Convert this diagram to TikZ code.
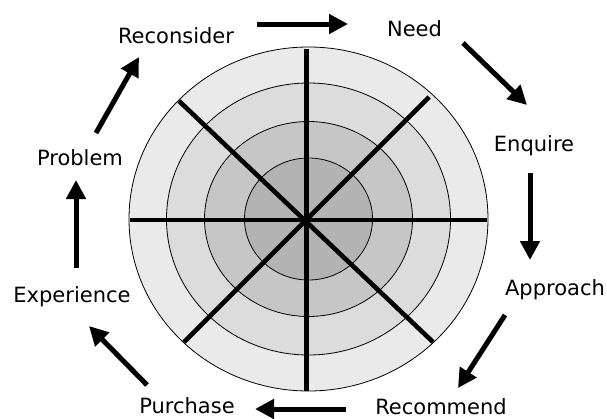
\documentclass[tikz,border=0pt]{standalone}
\usepackage{fontspec}
\setmainfont{DejaVu Sans}
\usetikzlibrary{arrows.meta}
\definecolor{ringA}{HTML}{EAEAEA}
\definecolor{ringB}{HTML}{DCDCDC}
\definecolor{ringC}{HTML}{C6C6C6}
\definecolor{ringD}{HTML}{B3B3B3}
\tikzset{
  lbl/.style={inner sep=0pt, anchor=base, font=\fontsize{21}{25}\selectfont},
  flow/.style={line width=5pt, -{Triangle[width=19pt,length=19pt]}},
  ring/.style={draw=black, line width=0.8pt},
  spoke/.style={line width=4.6pt, line cap=butt},
}
\begin{document}
\begin{tikzpicture}[x=1pt,y=-1pt]
\useasboundingbox (0,0) rectangle (607,418);
\coordinate (c) at (308.5,219);
% rings
\draw[ring, fill=ringA] (c) ellipse [x radius=179.5pt, y radius=172pt];
\draw[ring, fill=ringB] (c) ellipse [x radius=142pt, y radius=136pt];
\draw[ring, fill=ringC] (c) ellipse [x radius=104pt, y radius=97.5pt];
\draw[ring, fill=ringD] (c) ellipse [x radius=64pt, y radius=61pt];
% spokes
\coordinate (sT) at (306.7,49);
\coordinate (sB) at (306.7,391);
\coordinate (sL) at (130,220);
\coordinate (sR) at (487,220);
\coordinate (sTL) at (179,101);
\coordinate (sBR) at (433,342);
\coordinate (sTR) at (429,97);
\coordinate (sBL) at (184,342);
\draw[spoke] (sT) -- (sB);
\draw[spoke] (sL) -- (sR);
\draw[spoke] (sTL) -- (sBR);
\draw[spoke] (sTR) -- (sBL);
% labels
\node[lbl] (reconsider) at (176,43) {Reconsider};
\node[lbl] (need) at (414.5,36) {Need};
\node[lbl] (enquire) at (534,151) {Enquire};
\node[lbl] (approach) at (555,295) {Approach};
\node[lbl] (recommend) at (441,414) {Recommend};
\node[lbl] (purchase) at (187,413) {Purchase};
\node[lbl] (experience) at (72,302) {Experience};
\node[lbl] (problem) at (80,165) {Problem};
% arrow endpoints
\coordinate (a1s) at (257,24);  \coordinate (a1e) at (348,24);
\coordinate (a2s) at (463,43);  \coordinate (a2e) at (527,105);
\coordinate (a3s) at (530,173); \coordinate (a3e) at (530,260);
\coordinate (a4s) at (505,315); \coordinate (a4e) at (458,388);
\coordinate (a5s) at (346,409); \coordinate (a5e) at (255,409);
\coordinate (a6s) at (147,385); \coordinate (a6e) at (89,326);
\coordinate (a7s) at (76,268);  \coordinate (a7e) at (76,180);
\coordinate (a8s) at (96,133);  \coordinate (a8e) at (139,57);
\draw[flow] (a1s) -- (a1e);
\draw[flow] (a2s) -- (a2e);
\draw[flow] (a3s) -- (a3e);
\draw[flow] (a4s) -- (a4e);
\draw[flow] (a5s) -- (a5e);
\draw[flow] (a6s) -- (a6e);
\draw[flow] (a7s) -- (a7e);
\draw[flow] (a8s) -- (a8e);
\end{tikzpicture}
\end{document}
